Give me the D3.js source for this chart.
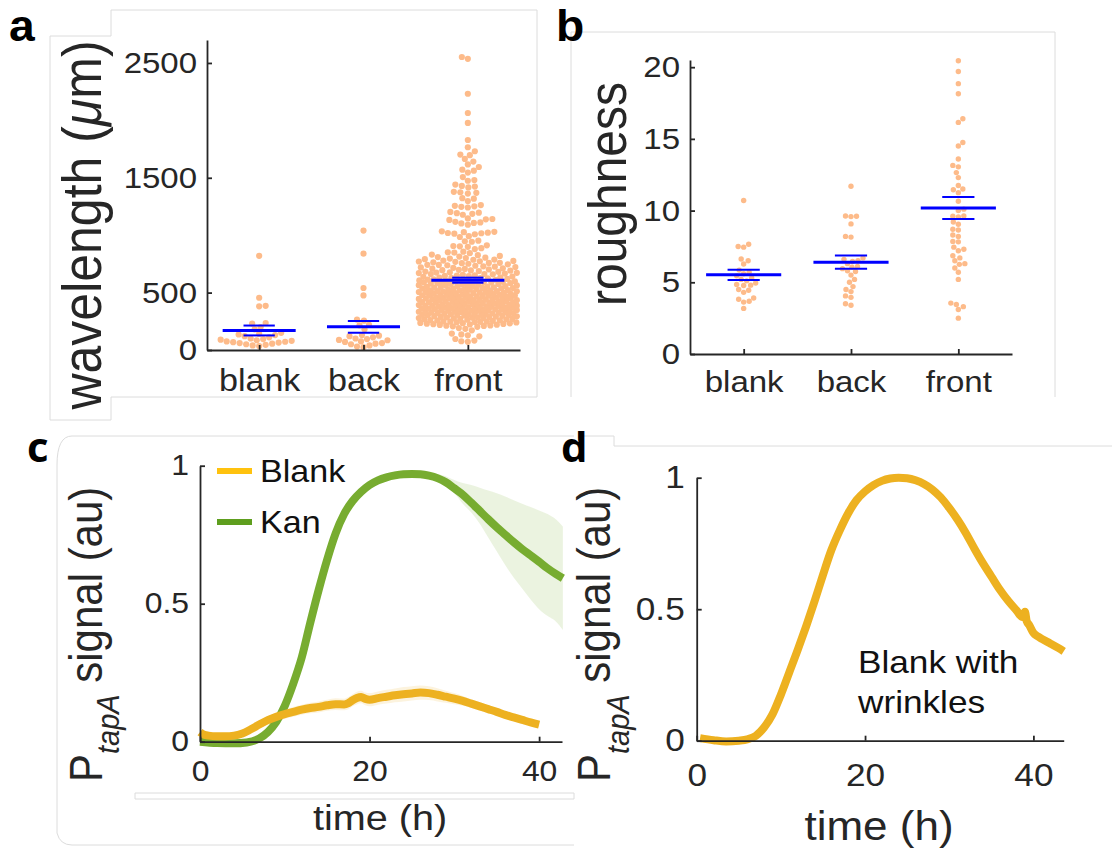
<!DOCTYPE html>
<html>
<head>
<meta charset="utf-8">
<script src="https://cdn.jsdelivr.net/npm/d3@7"></script>
<style>
  html, body { margin: 0; padding: 0; background: #fff; }
  svg { display: block; }
</style>
</head>
<body>
<svg id="fig" width="1112" height="850"></svg>
<script>
// ---------------- data ----------------
const categories = ["blank", "back", "front"];

// panel a: wrinkle wavelength (µm) per condition
const waveBlank = [820, 455, 385, 380, 235, 230, 200, 180, 150, 140, 135, 130, 120, 110, 100,
  95, 90, 85, 80, 75, 72, 68, 65, 60, 55, 50, 45, 40, 35];
const waveBack = [1040, 840, 540, 475, 265, 255, 220, 215, 180, 130, 125, 120, 110, 100, 95,
  88, 85, 75, 70, 60, 55, 50, 40, 30, 25];
const waveFront = [
  2552, 2536, 2232, 2064, 1978, 1829, 1766, 1731, 1702, 1697, 1664, 1641, 1616, 1594, 1571,
  1562, 1545, 1506, 1480, 1474, 1441, 1429, 1423, 1416, 1378, 1374, 1369, 1362, 1322, 1318,
  1297, 1262, 1256, 1251, 1247, 1241, 1203, 1196, 1192, 1186, 1178, 1146, 1141, 1138, 1133,
  1116, 1111, 1107, 1102, 1091, 1034, 1029, 1026, 1022, 1019, 1017, 1013, 1008,
  991, 984, 952, 947, 943, 912, 906, 903, 899,
  887, 879, 856, 851, 848, 843, 831, 826, 819, 814, 809, 804, 801,
  796, 791, 786, 779, 776, 771, 768, 764, 759, 756, 751, 746, 742, 738, 734, 729, 726, 719,
  716, 711, 706, 702, 708, 723, 741, 758, 773, 788,
  698, 695, 691, 688, 683, 681, 677, 672, 670, 666, 661, 659, 655, 650, 648, 643, 640, 637,
  632, 630, 626, 623, 619, 615, 613, 609, 606, 603, 601, 600, 612, 628, 645, 662, 674, 693,
  599, 597, 592, 590, 587, 583, 582, 578, 575, 574, 570, 566, 565, 561, 558, 556, 553, 549,
  548, 544, 541, 539, 536, 533, 530, 528, 525, 521, 520, 517, 514, 511, 509, 505, 503, 501,
  597, 588, 571, 562, 546, 534, 519, 507, 594, 555, 526, 512,
  498, 496, 493, 490, 488, 484, 483, 479, 476, 474, 471, 467, 466, 462, 459, 457, 454, 451,
  449, 445, 443, 440, 437, 435, 431, 428, 426, 423, 420, 418, 414, 412, 409, 406, 404, 401,
  495, 486, 477, 468, 455, 446, 432, 421, 411, 402, 491, 473, 458, 439, 427, 416, 481, 452, 434,
  399, 396, 394, 391, 388, 385, 383, 380, 378, 374, 372, 369, 366, 364, 361, 358, 356, 352,
  350, 347, 344, 342, 339, 336, 333, 331, 328, 325, 322, 320, 317, 314, 311, 309, 306, 303,
  301, 397, 386, 376, 367, 355, 345, 334, 323, 312, 304, 392, 371, 348, 327, 308, 389, 362,
  341, 318, 381, 353,
  298, 295, 291, 288, 285, 281, 279, 275, 271, 268, 264, 261, 257, 254, 250, 247, 243, 240,
  236, 232, 229, 225, 221, 218, 214, 210, 206, 202, 293, 283, 272, 259, 245, 234, 223, 212,
  287, 266, 248, 227, 278, 241,
  191, 184, 171, 143, 136, 128, 119, 96, 82, 76, 71];
const waveMean = [170, 202, 608];
const waveSE = [43, 51, 22];
const waveTicks = [0, 500, 1500, 2500];

// panel b: roughness per condition
const roughBlank = [10.7, 7.65, 7.5, 7.45, 6.62, 6.5, 6.28, 5.85, 5.7, 5.6, 5.45, 5.3, 5.2, 5.1,
  4.95, 4.85, 4.8, 4.78, 4.5, 4.45, 4.3, 3.9, 3.82, 3.68, 3.62, 3.18];
const roughBack = [11.7, 9.62, 9.6, 9.58, 9.07, 8.2, 8.15, 6.7, 6.6, 6.5, 6.45, 6.3, 6.1, 6.05,
  5.95, 5.8, 5.75, 5.5, 5.2, 5.0, 4.7, 4.5, 4.35, 4.05, 3.95, 3.5, 3.4];
const roughFront = [20.45, 19.7, 18.85, 18.15, 16.4, 16.15, 14.75, 14.5, 13.6, 13.15, 13.05,
  12.65, 12.3, 11.75, 11.5, 11.45, 11.25, 10.65, 10.1, 10.0, 9.6, 9.55, 9.62, 9.2, 9.05, 8.7,
  8.65, 8.3, 8.2, 7.85, 7.82, 7.45, 7.3, 7.2, 6.85, 6.7, 6.5, 6.3, 6.25, 6.0, 5.7, 5.2, 3.55,
  3.45, 3.3, 3.1, 2.5];
const roughMean = [5.52, 6.4, 10.18];
const roughSE = [0.36, 0.46, 0.77];
const roughTicks = [0, 5, 10, 15, 20];

// panel c: PtapA signal, Kan (mean with upper/lower band) and Blank (mean ± error)
const timeKan = [0, 2, 4, 5.5, 7, 8, 9, 10, 11, 12, 13, 14, 15, 16, 17, 18, 19, 20, 21, 22, 23,
  24, 25, 26, 27, 28, 29, 30, 31, 32, 33, 34, 35, 36, 37, 38, 39, 40, 41, 42, 42.8];
const kanSignal = [0.0, -0.005, -0.006, -0.003, 0.012, 0.035, 0.072, 0.13, 0.21, 0.305, 0.43,
  0.55, 0.66, 0.755, 0.825, 0.872, 0.905, 0.93, 0.947, 0.958, 0.965, 0.969, 0.97, 0.969, 0.964,
  0.955, 0.94, 0.918, 0.895, 0.866, 0.836, 0.806, 0.777, 0.75, 0.723, 0.698, 0.675, 0.652,
  0.628, 0.607, 0.592];
const kanHigh = [0.012, 0.007, 0.006, 0.009, 0.024, 0.047, 0.084, 0.142, 0.222, 0.318, 0.443,
  0.563, 0.673, 0.768, 0.838, 0.885, 0.918, 0.943, 0.96, 0.971, 0.978, 0.982, 0.983, 0.982,
  0.978, 0.97, 0.962, 0.948, 0.937, 0.93, 0.92, 0.91, 0.9, 0.888, 0.875, 0.862, 0.85, 0.838,
  0.825, 0.805, 0.78];
const kanLow = [-0.012, -0.017, -0.018, -0.015, 0.0, 0.023, 0.06, 0.118, 0.198, 0.293, 0.418,
  0.538, 0.648, 0.743, 0.813, 0.86, 0.893, 0.918, 0.935, 0.946, 0.953, 0.957, 0.958, 0.957,
  0.952, 0.943, 0.925, 0.9, 0.862, 0.83, 0.79, 0.74, 0.69, 0.64, 0.595, 0.555, 0.515, 0.48,
  0.455, 0.435, 0.405];

const timeBlank = [0, 0.5, 1, 2, 3, 4, 5, 6, 7, 8, 9, 10, 11, 12, 13, 14, 15, 16, 17, 17.5, 18,
  18.5, 19, 19.5, 20, 21, 22, 23, 24, 25, 26, 27, 28, 29, 30, 31, 32, 33, 34, 35, 36, 37, 38,
  39, 40];
const blankSignal = [0.035, 0.025, 0.022, 0.02, 0.02, 0.022, 0.03, 0.045, 0.062, 0.078, 0.09,
  0.1, 0.108, 0.116, 0.122, 0.126, 0.132, 0.136, 0.135, 0.14, 0.15, 0.158, 0.162, 0.155, 0.152,
  0.158, 0.163, 0.168, 0.172, 0.175, 0.178, 0.176, 0.17, 0.163, 0.156, 0.148, 0.138, 0.128,
  0.118, 0.108, 0.097, 0.088, 0.079, 0.07, 0.062];
const blankErr = [0.012, 0.012, 0.012, 0.012, 0.012, 0.012, 0.012, 0.013, 0.014, 0.015, 0.016,
  0.017, 0.018, 0.018, 0.019, 0.02, 0.02, 0.021, 0.021, 0.022, 0.022, 0.023, 0.023, 0.023,
  0.024, 0.024, 0.025, 0.025, 0.026, 0.026, 0.026, 0.025, 0.024, 0.022, 0.02, 0.018, 0.016,
  0.015, 0.014, 0.013, 0.012, 0.012, 0.011, 0.011, 0.01];

// panel d: PtapA signal of the wrinkled blank
const timeWrinkle = [0.4, 2, 3.5, 5, 6, 7, 8, 9, 10, 11, 12, 13, 14, 15, 16, 17, 18, 19, 20, 21,
  22, 23, 24, 25, 26, 27, 28, 29, 30, 31, 32, 33, 34, 35, 36, 37, 38, 38.7, 39.0, 39.2, 39.5,
  40, 40.5, 41, 42, 43, 43.6];
const wrinkleSignal = [0.01, 0.002, -0.003, 0.0, 0.005, 0.018, 0.05, 0.1, 0.175, 0.26, 0.345,
  0.435, 0.53, 0.63, 0.725, 0.8, 0.865, 0.915, 0.948, 0.972, 0.988, 0.997, 1.0, 0.998, 0.99,
  0.976, 0.955, 0.925, 0.885, 0.84, 0.788, 0.73, 0.675, 0.625, 0.575, 0.532, 0.495, 0.47, 0.49,
  0.455, 0.44, 0.41, 0.397, 0.387, 0.37, 0.352, 0.34];

const timeTicks = [0, 20, 40];
const signalTicks = [0, 0.5, 1];

// ---------------- styling ----------------
const FONT = "'Liberation Sans', Arial, Helvetica, sans-serif";
const INK = "#262626";
const SX = 1.1;            // horizontal text stretch of the figure
const DOT = "#FDBB8A";
const BLUE = "#0000FF";
const YELLOW = "#EDB120";
const GREEN = "#77AC30";

const svg = d3.select("#fig");
svg.append("rect").attr("width", 1112).attr("height", 850).attr("fill", "#fff");

function addText(parent, x, y, str, size, opts = {}) {
  const sx = opts.sx ?? SX;
  const t = parent.append("text")
    .attr("transform", `translate(${x},${y}) scale(${sx},1)` + (opts.rotate ? ` rotate(${opts.rotate})` : ""))
    .attr("font-family", opts.family || FONT)
    .attr("font-size", size)
    .attr("font-weight", opts.weight || "normal")
    .attr("fill", opts.fill || INK)
    .attr("text-anchor", opts.anchor || "start");
  if (str !== null) t.text(str);
  return t;
}

function styleAxis(g, size) {
  g.attr("font-family", null).attr("font-size", null);
  g.select(".domain").attr("stroke", INK).attr("stroke-width", 1.8);
  g.selectAll(".tick line").attr("stroke", INK).attr("stroke-width", 1.8);
  g.selectAll(".tick text")
    .attr("font-family", FONT).attr("font-size", size).attr("fill", INK)
    .attr("transform", function () {
      const x = +(this.getAttribute("x") || 0);
      return `translate(${x},0) scale(${SX},1) translate(${-x},0)`;
    });
}

// faint panel frames
const frames = svg.append("g").attr("fill", "none").attr("stroke", "#dcdcdc").attr("stroke-width", 1);
[
  "M111,36 V10 H537 V397 H111",
  "M50,420 V36 H111 M111,397 V420 H50",
  "M571,397 V32 H1055 V397",
  "M57,833 V465 Q57,436 72,436 H574",
  "M57,833 Q60,845 72,845 H574",
  "M135,793 H574 V799 H135 Z",
  "M581,436 H614 V446 H1112"
].forEach(d => frames.append("path").attr("d", d));

// beeswarm offsets: points placed bottom-up, nearest free slot to the centre
function swarm(values, yScale, minD, maxHalf) {
  const pts = values.map(v => ({ v, y: yScale(v) })).sort((a, b) => b.y - a.y);
  const placed = [];
  pts.forEach((p, idx) => {
    let best = 0, bestScore = -1;
    const sgn = idx % 2 ? -1 : 1;
    search:
    for (let k = 0; k <= maxHalf; k += 0.5) {
      const cands = k === 0 ? [0] : [sgn * k, -sgn * k];
      for (const s of cands) {
        let md = Infinity;
        for (let i = placed.length - 1; i >= 0; i--) {
          const q = placed[i];
          const dy = q.y - p.y;
          if (dy > minD) break;
          const d = Math.hypot(q.dx - s, dy);
          if (d < md) md = d;
        }
        if (md >= minD) { best = s; break search; }
        if (md > bestScore) { bestScore = md; best = s; }
      }
    }
    placed.push({ v: p.v, y: p.y, dx: best });
  });
  return placed;
}

// ---------------- dot-plot panels (a, b) ----------------
function dotPanel(cfg) {
  const g = svg.append("g");
  const x = d3.scalePoint().domain(categories).range([cfg.x0, cfg.x1]).padding(0.5);
  const y = d3.scaleLinear().domain(cfg.yDomain).range([cfg.y0, cfg.y1]);
  const step = x.step();

  cfg.groups.forEach((vals, i) => {
    const cx = x(categories[i]);
    const pts = swarm(vals, y, cfg.minD, cfg.maxHalf);
    g.append("g").selectAll("circle").data(pts).join("circle")
      .attr("cx", d => cx + d.dx).attr("cy", d => d.y)
      .attr("r", cfg.r).attr("fill", DOT);
  });

  // mean and standard-error lines
  const stats = g.append("g").attr("stroke", BLUE);
  categories.forEach((c, i) => {
    const cx = x(c);
    const m = cfg.means[i], s = cfg.se[i];
    stats.append("line").attr("x1", cx - 0.35 * step).attr("x2", cx + 0.35 * step)
      .attr("y1", y(m)).attr("y2", y(m)).attr("stroke-width", 3);
    [m + s, m - s].forEach(v => stats.append("line")
      .attr("x1", cx - 0.15 * step).attr("x2", cx + 0.15 * step)
      .attr("y1", y(v)).attr("y2", y(v)).attr("stroke-width", 2));
  });

  const gx = g.append("g").attr("transform", `translate(0,${cfg.y0})`)
    .call(d3.axisBottom(x).tickSizeInner(-5).tickSizeOuter(0).tickPadding(cfg.xPad));
  styleAxis(gx, cfg.catSize);
  const gy = g.append("g").attr("transform", `translate(${cfg.x0},0)`)
    .call(d3.axisLeft(y).tickValues(cfg.ticks).tickFormat(d3.format("~g"))
      .tickSizeInner(-5).tickSizeOuter(0).tickPadding(cfg.yPad));
  styleAxis(gy, cfg.tickSize);
  return g;
}

dotPanel({
  x0: 207, x1: 520, y0: 350, y1: 40, yDomain: [0, 2700],
  groups: [waveBlank, waveBack, waveFront], means: waveMean, se: waveSE, ticks: waveTicks,
  r: 3.1, minD: 6.2, maxHalf: 49, xPad: 19, yPad: 10, catSize: 31, tickSize: 30
});
dotPanel({
  x0: 690, x1: 1012, y0: 354, y1: 60, yDomain: [0, 20.5],
  groups: [roughBlank, roughBack, roughFront], means: roughMean, se: roughSE, ticks: roughTicks,
  r: 2.7, minD: 5.4, maxHalf: 14, xPad: 17, yPad: 10, catSize: 30, tickSize: 30
});

// y labels of a and b
const wl = addText(svg, 101, 225, null, 50, { rotate: -90, anchor: "middle" });
wl.append("tspan").text("wavelength (");
wl.append("tspan").attr("font-style", "italic").text("\u03bc");
wl.append("tspan").text("m)");
addText(svg, 626, 194, "roughness", 48, { rotate: -90, anchor: "middle" });

// ---------------- time-course panels (c, d) ----------------
function timeAxes(g, x, y, x0, y0, tickSize, xPad, yPad) {
  const gx = g.append("g").attr("transform", `translate(0,${y0})`)
    .call(d3.axisBottom(x).tickValues(timeTicks).tickFormat(d3.format("~g"))
      .tickSizeInner(-5).tickSizeOuter(0).tickPadding(xPad));
  styleAxis(gx, tickSize);
  const gy = g.append("g").attr("transform", `translate(${x0},0)`)
    .call(d3.axisLeft(y).tickValues(signalTicks).tickFormat(d3.format("~g"))
      .tickSizeInner(-5).tickSizeOuter(0).tickPadding(yPad));
  styleAxis(gy, tickSize);
}

function signalLabel(x, yStart, subShift) {
  const t = addText(svg, x, yStart, null, 42, { rotate: -90 });
  t.append("tspan").text("P");
  t.append("tspan").attr("font-size", 29).attr("font-style", "italic").attr("dy", subShift).text("tapA");
  t.append("tspan").attr("dy", -subShift).text(" signal (au)");
}

// panel c
{
  const g = svg.append("g");
  const x = d3.scaleLinear().domain([0, 42.7]).range([200, 562]);
  const y = d3.scaleLinear().domain([0, 1]).range([741.7, 465.7]);
  const kan = timeKan.map((t, i) => ({ t, v: kanSignal[i], hi: kanHigh[i], lo: kanLow[i] }));
  const blank = timeBlank.map((t, i) => ({ t, v: blankSignal[i], e: blankErr[i] }));

  const area = d3.area().x(d => x(d.t)).curve(d3.curveMonotoneX);
  g.append("path").datum(kan)
    .attr("d", area.y0(d => y(d.lo)).y1(d => y(d.hi)))
    .attr("fill", GREEN).attr("fill-opacity", 0.15);
  g.append("path").datum(blank)
    .attr("d", area.y0(d => y(d.v - d.e)).y1(d => y(d.v + d.e)))
    .attr("fill", YELLOW).attr("fill-opacity", 0.15);

  const line = d3.line().x(d => x(d.t)).y(d => y(d.v)).curve(d3.curveMonotoneX);
  g.append("path").datum(kan).attr("d", line)
    .attr("fill", "none").attr("stroke", GREEN).attr("stroke-width", 8).attr("stroke-linejoin", "round");
  g.append("path").datum(blank).attr("d", line)
    .attr("fill", "none").attr("stroke", YELLOW).attr("stroke-width", 8).attr("stroke-linejoin", "round");

  timeAxes(g, x, y, 200, 741.7, 29, 19, 11);

  // legend
  const legend = [{ name: "Blank", color: "#FFC20E", y: 471 }, { name: "Kan", color: "#5E9E1E", y: 522 }];
  legend.forEach(d => {
    g.append("line").attr("x1", 217).attr("x2", 252).attr("y1", d.y).attr("y2", d.y)
      .attr("stroke", d.color).attr("stroke-width", 6);
    addText(g, 260, d.y + 11, d.name, 31, { fill: "#111" });
  });

  addText(svg, 380, 830, "time (h)", 36, { anchor: "middle" });
  signalLabel(102, 782, 15);
}

// panel d
{
  const g = svg.append("g");
  const x = d3.scaleLinear().domain([0, 43.6]).range([696.7, 1063.7]);
  const y = d3.scaleLinear().domain([0, 1]).range([740.7, 477.7]);
  const data = timeWrinkle.map((t, i) => ({ t, v: wrinkleSignal[i] }));
  g.append("path").datum(data)
    .attr("d", d3.line().x(d => x(d.t)).y(d => y(d.v)).curve(d3.curveMonotoneX))
    .attr("fill", "none").attr("stroke", YELLOW).attr("stroke-width", 8).attr("stroke-linejoin", "round");
  timeAxes(g, x, y, 696.7, 740.7, 32, 23, 12);

  addText(g, 858, 673, "Blank with", 32, { fill: "#111" });
  addText(g, 858, 713, "wrinkles", 32, { fill: "#111" });
  addText(svg, 879, 840, "time (h)", 40, { anchor: "middle" });
  signalLabel(610, 782, 17);
}

// panel letters
addText(svg, 9, 41, "a", 44, { weight: "bold", sx: 1.05, fill: "#000" });
addText(svg, 556, 41, "b", 44, { weight: "bold", sx: 1.05, fill: "#000" });
addText(svg, 27, 462, "c", 42, { weight: "bold", sx: 1, fill: "#000", family: "'Open Sans', sans-serif" });
addText(svg, 561, 462, "d", 42, { weight: "bold", sx: 1, fill: "#000", family: "'Open Sans', sans-serif" });
</script>
</body>
</html>
